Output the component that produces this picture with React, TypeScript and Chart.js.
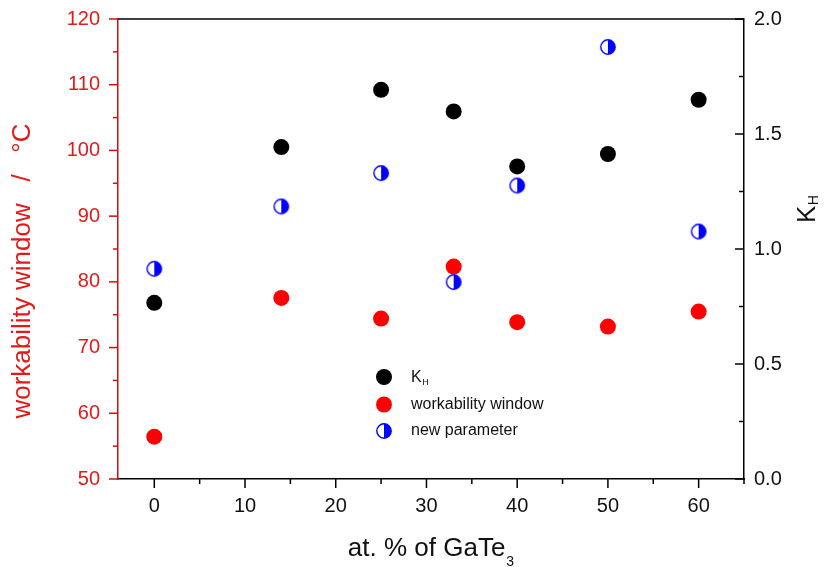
import React, { useEffect, useRef } from 'react';
import { Chart, registerables } from 'chart.js';

Chart.register(...registerables);

// ---- data ----
const compositions = [0, 14, 25, 33, 40, 50, 60]; // at. % of GaTe3
const kH = [0.766, 1.443, 1.692, 1.598, 1.359, 1.413, 1.649];
const workabilityWindow = [56.44, 77.56, 74.41, 82.33, 73.86, 73.19, 75.48];
const newParameter = [0.914, 1.185, 1.33, 0.856, 1.276, 1.878, 1.076];

const xMajorTicks = [0, 10, 20, 30, 40, 50, 60];
const xMinorTicks = [5, 15, 25, 35, 45, 55, 65];
const leftMajorTicks = [50, 60, 70, 80, 90, 100, 110, 120];
const leftMinorTicks = [55, 65, 75, 85, 95, 105, 115];
const rightMajorTicks = [0, 0.5, 1.0, 1.5, 2.0];
const rightMinorTicks = [0.25, 0.75, 1.25, 1.75];

const FONT = '"Liberation Sans", Arial, sans-serif';
const RED_TEXT = '#e01b1b';
const RED_AXIS = '#cc1010';
const RED_DOT = '#ff0000';
const BLUE = '#0000ff';

function makeHalfMarker(): HTMLCanvasElement {
  const c = document.createElement('canvas');
  c.width = 18;
  c.height = 18;
  const g = c.getContext('2d')!;
  const r = 7.2;
  g.beginPath();
  g.arc(9, 9, r, 0, Math.PI * 2);
  g.fillStyle = '#ffffff';
  g.fill();
  g.beginPath();
  g.arc(9, 9, r, -Math.PI / 2, Math.PI / 2);
  g.closePath();
  g.fillStyle = BLUE;
  g.fill();
  g.beginPath();
  g.arc(9, 9, r, 0, Math.PI * 2);
  g.strokeStyle = BLUE;
  g.lineWidth = 1.4;
  g.stroke();
  return c;
}

const zeroPad = (s: any) => {
  s.paddingTop = 0;
  s.paddingBottom = 0;
  s.paddingLeft = 0;
  s.paddingRight = 0;
};

export default function App() {
  const ref = useRef<HTMLCanvasElement | null>(null);

  useEffect(() => {
    const canvas = ref.current;
    if (!canvas) return;
    const half = makeHalfMarker();

    const decor = {
      id: 'decor',
      afterDraw(chart: any) {
        const { ctx, chartArea: a, scales } = chart;
        const xs = scales.x;
        const yl = scales.y;
        const yr = scales.y1;
        ctx.save();
        // top frame line
        ctx.strokeStyle = '#000';
        ctx.lineWidth = 1.5;
        ctx.beginPath();
        ctx.moveTo(a.left, a.top);
        ctx.lineTo(a.right, a.top);
        ctx.stroke();

        // x ticks (outward)
        ctx.strokeStyle = '#000';
        ctx.lineWidth = 1.5;
        const xt = (vals: number[], len: number) => {
          vals.forEach((v) => {
            const px = xs.getPixelForValue(v);
            ctx.beginPath();
            ctx.moveTo(px, a.bottom);
            ctx.lineTo(px, a.bottom + len);
            ctx.stroke();
          });
        };
        xt(xMajorTicks, 9);
        xt(xMinorTicks, 5);

        // left ticks (outward, red)
        ctx.strokeStyle = RED_AXIS;
        const lt = (vals: number[], len: number) => {
          vals.forEach((v) => {
            const py = yl.getPixelForValue(v);
            ctx.beginPath();
            ctx.moveTo(a.left - len, py);
            ctx.lineTo(a.left, py);
            ctx.stroke();
          });
        };
        lt(leftMajorTicks, 9);
        lt(leftMinorTicks, 5);

        // right ticks (inward, black)
        ctx.strokeStyle = '#000';
        const rt = (vals: number[], len: number) => {
          vals.forEach((v) => {
            const py = yr.getPixelForValue(v);
            ctx.beginPath();
            ctx.moveTo(a.right - len, py);
            ctx.lineTo(a.right, py);
            ctx.stroke();
          });
        };
        rt(rightMajorTicks, 9);
        rt(rightMinorTicks, 5);

        // x title
        ctx.fillStyle = '#111';
        ctx.textBaseline = 'alphabetic';
        ctx.textAlign = 'left';
        ctx.font = `26px ${FONT}`;
        const main = 'at. % of GaTe';
        const w = ctx.measureText(main).width;
        ctx.font = `14px ${FONT}`;
        const ws = ctx.measureText('3').width;
        const cx = (a.left + a.right) / 2;
        const x0 = cx - (w + ws + 1) / 2;
        ctx.font = `26px ${FONT}`;
        ctx.fillText(main, x0, 556);
        ctx.font = `14px ${FONT}`;
        ctx.fillText('3', x0 + w + 1, 566);

        // left title
        ctx.save();
        ctx.translate(23, 271);
        ctx.rotate(-Math.PI / 2);
        ctx.fillStyle = RED_TEXT;
        ctx.font = `26px ${FONT}`;
        ctx.textAlign = 'center';
        ctx.textBaseline = 'middle';
        ctx.fillText('workability window   /   °C', 0, 0);
        ctx.restore();

        // right title K_H
        ctx.save();
        ctx.translate(815, 223);
        ctx.rotate(-Math.PI / 2);
        ctx.fillStyle = '#111';
        ctx.textAlign = 'left';
        ctx.textBaseline = 'alphabetic';
        ctx.font = `26px ${FONT}`;
        ctx.fillText('K', 0, 0);
        const kw = ctx.measureText('K').width;
        ctx.font = `14px ${FONT}`;
        ctx.fillText('H', kw + 0.5, 3);
        ctx.restore();

        // legend
        const lx = 384;
        const tx = 411;
        const rows = [377, 404.5, 431];
        ctx.fillStyle = '#000';
        ctx.beginPath();
        ctx.arc(lx, rows[0], 8, 0, Math.PI * 2);
        ctx.fill();
        ctx.fillStyle = RED_DOT;
        ctx.beginPath();
        ctx.arc(lx, rows[1], 8, 0, Math.PI * 2);
        ctx.fill();
        ctx.drawImage(half, lx - 9, rows[2] - 9);

        ctx.fillStyle = '#111';
        ctx.textAlign = 'left';
        ctx.textBaseline = 'middle';
        ctx.font = `16px ${FONT}`;
        ctx.fillText('K', tx, rows[0] + 1);
        const kw2 = ctx.measureText('K').width;
        ctx.font = `9px ${FONT}`;
        ctx.fillText('H', tx + kw2 + 0.5, rows[0] + 6);
        ctx.font = `16px ${FONT}`;
        ctx.fillText('workability window', tx, rows[1]);
        ctx.fillText('new parameter', tx, rows[2]);
        ctx.restore();
      },
    };

    const chart = new Chart(canvas, {
      type: 'scatter',
      data: {
        datasets: [
          {
            label: 'K_H',
            data: compositions.map((x, i) => ({ x, y: kH[i] })),
            yAxisID: 'y1',
            backgroundColor: '#000000',
            borderWidth: 0,
            pointRadius: 8,
            order: 3,
          },
          {
            label: 'workability window',
            data: compositions.map((x, i) => ({ x, y: workabilityWindow[i] })),
            yAxisID: 'y',
            backgroundColor: RED_DOT,
            borderWidth: 0,
            pointRadius: 8,
            order: 2,
          },
          {
            label: 'new parameter',
            data: compositions.map((x, i) => ({ x, y: newParameter[i] })),
            yAxisID: 'y1',
            pointStyle: half as any,
            pointRadius: 8,
            order: 1,
          },
        ],
      },
      options: {
        animation: false,
        responsive: false,
        events: [],
        layout: { padding: { top: 19, left: 0, right: 0, bottom: 0 } },
        plugins: { legend: { display: false }, tooltip: { enabled: false } },
        scales: {
          x: {
            type: 'linear',
            position: 'bottom',
            min: -4,
            max: 65,
            ticks: {
              stepSize: 10,
              includeBounds: false,
              color: '#111',
              font: { family: FONT, size: 20 },
              padding: 15,
            },
            grid: { display: true, drawOnChartArea: false, drawTicks: false },
            border: { color: '#000', width: 1.5 },
            afterFit: (s: any) => {
              s.height = 88;
              zeroPad(s);
            },
          },
          y: {
            type: 'linear',
            position: 'left',
            min: 50,
            max: 120,
            ticks: {
              stepSize: 10,
              color: RED_TEXT,
              font: { family: FONT, size: 20 },
              padding: 18,
            },
            grid: { display: true, drawOnChartArea: false, drawTicks: false },
            border: { color: RED_AXIS, width: 1.5 },
            afterFit: (s: any) => {
              s.width = 118;
              zeroPad(s);
            },
          },
          y1: {
            type: 'linear',
            position: 'right',
            min: 0,
            max: 2,
            ticks: {
              stepSize: 0.5,
              color: '#111',
              font: { family: FONT, size: 20 },
              padding: 10,
              callback: (v: any) => Number(v).toFixed(1),
            },
            grid: { display: true, drawOnChartArea: false, drawTicks: false },
            border: { color: '#000', width: 1.5 },
            afterFit: (s: any) => {
              s.width = 81;
              zeroPad(s);
            },
          },
        },
      } as any,
      plugins: [decor],
    });

    return () => chart.destroy();
  }, []);

  return (
    <div style={{ position: 'fixed', left: 0, top: 0, width: 825, height: 567, background: '#fff' }}>
      <canvas ref={ref} width={825} height={567} style={{ display: 'block' }} />
    </div>
  );
}
